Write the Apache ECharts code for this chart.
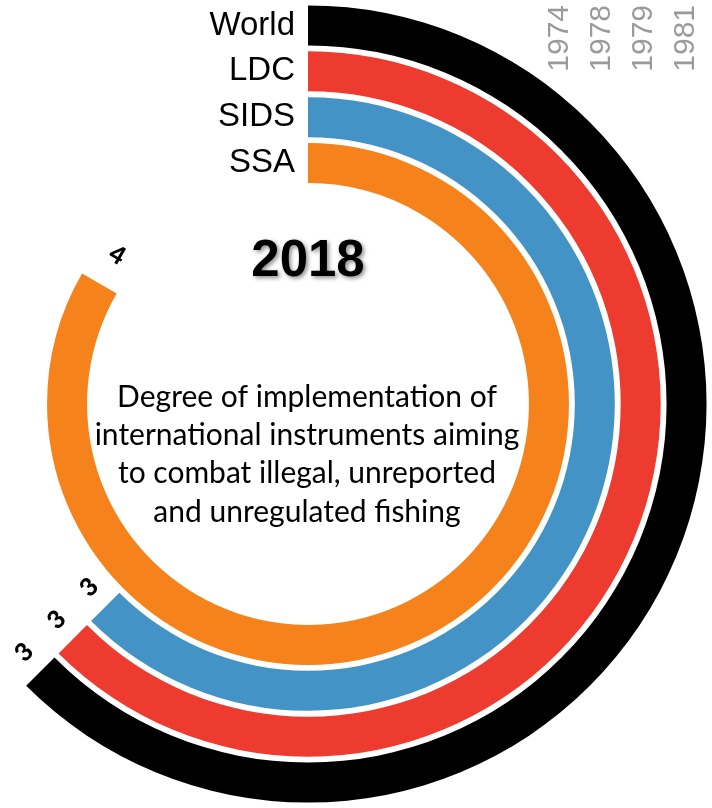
<!DOCTYPE html>
<html>
<head>
<meta charset="utf-8">
<script src="https://cdn.jsdelivr.net/npm/echarts@6/dist/echarts.min.js"></script>
<style>
  html, body { margin: 0; padding: 0; background: #ffffff; }
  #chart { width: 712px; height: 808px; }
</style>
</head>
<body>
<div id="chart"></div>
<script>
// Groups, innermost ring first
const groups = ['SSA', 'SIDS', 'LDC', 'World'];
// Implementation score per group (2018)
const scores = [4, 3, 3, 3];
const ringColors = ['#F5821A', '#4393C6', '#EE3B2F', '#000000'];
// Years shown in the upper-right corner
const years = ['1974', '1978', '1979', '1981'];
const yearName = '2018';
const descriptionLines = [
  'Degree of implementation of',
  'international instruments aiming',
  'to combat illegal, unreported',
  'and unregulated fishing'
];

const CX = 308, CY = 404;
const SCALE_MAX = 4.8;   // full circle of the angle axis

const chart = echarts.init(document.getElementById('chart'), null, { renderer: 'canvas' });

const graphics = [];
years.forEach(function (y, i) {
  graphics.push({
    type: 'text',
    x: 559.5 + i * 42.2,
    y: 5,
    rotation: Math.PI / 2,
    style: {
      text: y,
      fill: '#9a9a9a',
      font: '30px "Liberation Sans", Arial, sans-serif',
      textAlign: 'right',
      textVerticalAlign: 'middle'
    }
  });
});
graphics.push({
  type: 'text',
  x: CX,
  y: 262,
  style: {
    text: yearName,
    fill: '#000000',
    font: 'bold 51px "Liberation Sans", Arial, sans-serif',
    textAlign: 'center',
    textVerticalAlign: 'middle',
    textShadowColor: 'rgba(0,0,0,0.45)',
    textShadowBlur: 4,
    textShadowOffsetX: 2,
    textShadowOffsetY: 2
  }
});
descriptionLines.forEach(function (line, i) {
  graphics.push({
    type: 'text',
    x: 307,
    y: 382 + i * 38.3,
    style: {
      text: line,
      fill: '#000000',
      font: '30px Lato, "Open Sans", sans-serif',
      textAlign: 'center',
      textVerticalAlign: 'alphabetic'
    }
  });
});

// value labels sit just past the bar end, glyph tops pointing along the sweep
// (sector label rotation is taken in radians)
function sweepDeg(v) {
  return v / SCALE_MAX * 360;
}
function labelRotation(v) {
  return (270 - sweepDeg(v)) * Math.PI / 180;
}
// nudge each label slightly away from the centre
function labelOffset(v) {
  const a = sweepDeg(v) * Math.PI / 180;
  const push = 7;
  return [Math.sin(a) * push, -Math.cos(a) * push];
}

chart.setOption({
  animation: false,
  backgroundColor: '#ffffff',
  polar: {
    center: [CX, CY],
    radius: [218, 401.5]
  },
  angleAxis: {
    type: 'value',
    min: 0,
    max: SCALE_MAX,
    startAngle: 90,
    clockwise: true,
    axisLine: { show: false },
    axisTick: { show: false },
    axisLabel: { show: false },
    splitLine: { show: false }
  },
  radiusAxis: {
    type: 'category',
    data: groups,
    axisLine: { show: false },
    axisTick: { show: false },
    splitLine: { show: false },
    axisLabel: {
      show: true,
      interval: 0,
      hideOverlap: false,
      color: '#000000',
      fontSize: 33,
      fontFamily: '"Liberation Sans", Arial, sans-serif',
      margin: 13
    }
  },
  series: [{
    type: 'bar',
    coordinateSystem: 'polar',
    barWidth: 40,
    data: scores.map(function (v, i) {
      return {
        value: v,
        itemStyle: { color: ringColors[i] },
        label: { rotate: labelRotation(v), offset: labelOffset(v) }
      };
    }),
    label: {
      show: true,
      position: 'end',
      distance: 30,
      formatter: '{c}',
      color: '#000000',
      fontSize: 25,
      fontWeight: 900,
      fontFamily: 'Lato, "Open Sans", sans-serif'
    }
  }],
  graphic: graphics
});
</script>
</body>
</html>
